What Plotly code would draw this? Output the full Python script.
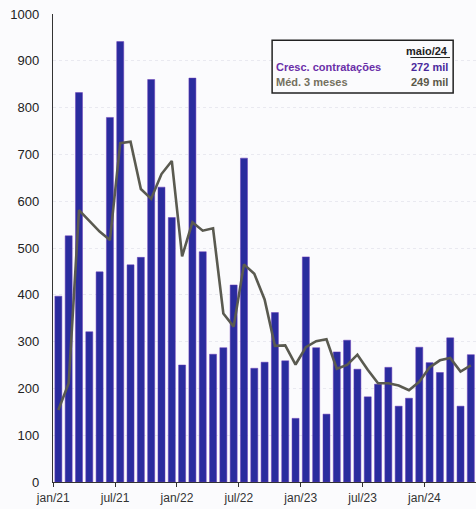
import plotly.graph_objects as go

# Monthly hiring growth (thousands) and its 3-month moving average, jan/21 .. maio/24
months = [
    "jan/21", "fev/21", "mar/21", "abr/21", "mai/21", "jun/21", "jul/21", "ago/21", "set/21", "out/21", "nov/21", "dez/21",
    "jan/22", "fev/22", "mar/22", "abr/22", "mai/22", "jun/22", "jul/22", "ago/22", "set/22", "out/22", "nov/22", "dez/22",
    "jan/23", "fev/23", "mar/23", "abr/23", "mai/23", "jun/23", "jul/23", "ago/23", "set/23", "out/23", "nov/23", "dez/23",
    "jan/24", "fev/24", "mar/24", "abr/24", "mai/24",
]
contratacoes = [
    397, 526, 832, 321, 449, 779, 941, 464, 480, 860, 630, 565,
    250, 863, 492, 273, 287, 421, 692, 243, 256, 362, 259, 136,
    481, 287, 145, 278, 303, 241, 182, 209, 245, 162, 179, 288,
    255, 234, 308, 162, 272,
]
media_3m = [
    154, 211, 581, 558, 535, 517, 724, 727, 626, 605, 658, 686,
    482, 555, 537, 542, 360, 332, 465, 445, 390, 291, 292, 251,
    288, 301, 305, 242, 250, 272, 240, 211, 211, 206, 196, 214,
    245, 260, 265, 236, 249,
]
tick_labels = ["jan/21", "jul/21", "jan/22", "jul/22", "jan/23", "jul/23", "jan/24"]
tick_idx = [months.index(t) for t in tick_labels]

x = list(range(len(months)))

fig = go.Figure()
fig.add_trace(go.Bar(
    x=x, y=contratacoes, name="Cresc. contratações",
    marker=dict(color="#2a2c9e", line=dict(color="#6a3ab8", width=0.5)),
))
fig.add_trace(go.Scatter(
    x=x, y=media_3m, name="Méd. 3 meses", mode="lines",
    line=dict(color="#5a5a50", width=2.6),
))

font = "Liberation Sans, Arial, sans-serif"

fig.update_layout(
    width=476, height=509,
    margin=dict(l=53, r=0, t=14, b=27),
    paper_bgcolor="#fbfbfd", plot_bgcolor="#fbfbfd",
    bargap=0.32, showlegend=False,
    font=dict(family=font, size=13, color="#222222"),
)
fig.update_xaxes(
    range=[-0.52, 40.5],
    tickvals=[i - 0.5 for i in tick_idx], ticktext=tick_labels,
    tickfont=dict(size=12, color="#333333"),
    ticks="outside", ticklen=4, tickcolor="#333333",
    showline=True, linecolor="#333333", linewidth=1.2,
    showgrid=False, zeroline=False,
)
fig.update_yaxes(
    range=[0, 1000], dtick=100,
    tickfont=dict(size=13, color="#222222"),
    ticks="outside", ticklen=10, tickcolor="rgba(0,0,0,0)",
    showline=True, linecolor="#333333", linewidth=1.4,
    showgrid=True, gridcolor="#e9e9f0", griddash="dot", gridwidth=1,
    zeroline=False,
)

# Summary box for the latest month
latest = months[-1].replace("mai/", "maio/")
fig.add_shape(type="rect", xref="paper", yref="paper",
              x0=0.518, x1=0.946, y0=0.831, y1=0.944,
              line=dict(color="#222222", width=1.5), fillcolor="#fbfbfd", layer="above")
fig.add_annotation(xref="paper", yref="paper", x=0.9385, y=0.922, xanchor="right", yanchor="middle",
                   text=f"<b>{latest}</b>", showarrow=False,
                   font=dict(family=font, size=11, color="#222222"))
fig.add_shape(type="line", xref="paper", yref="paper",
              x0=0.845, x1=0.9385, y0=0.907, y1=0.907,
              line=dict(color="#222222", width=1))
fig.add_annotation(xref="paper", yref="paper", x=0.522, y=0.887, xanchor="left", yanchor="middle",
                   text="<b>Cresc. contratações</b>", showarrow=False,
                   font=dict(family=font, size=11, color="#6a2fa8"))
fig.add_annotation(xref="paper", yref="paper", x=0.9385, y=0.887, xanchor="right", yanchor="middle",
                   text=f"<b>{contratacoes[-1]} mil</b>", showarrow=False,
                   font=dict(family=font, size=11, color="#4a2a9c"))
fig.add_annotation(xref="paper", yref="paper", x=0.522, y=0.855, xanchor="left", yanchor="middle",
                   text="<b>Méd. 3 meses</b>", showarrow=False,
                   font=dict(family=font, size=11, color="#74705e"))
fig.add_annotation(xref="paper", yref="paper", x=0.9385, y=0.855, xanchor="right", yanchor="middle",
                   text=f"<b>{media_3m[-1]} mil</b>", showarrow=False,
                   font=dict(family=font, size=11, color="#5a5848"))

fig.write_html("out.html")
